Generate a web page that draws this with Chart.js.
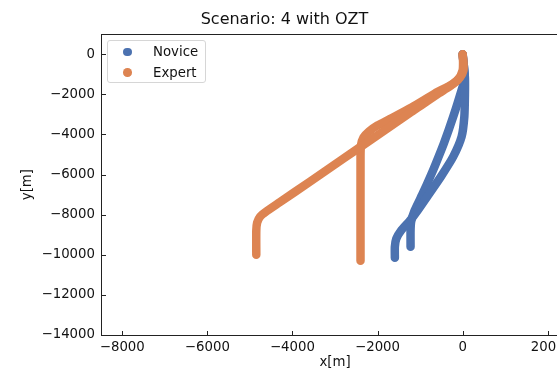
<!DOCTYPE html>
<html>
<head>
<meta charset="utf-8">
<script src="https://cdn.jsdelivr.net/npm/chart.js@4"></script>
<style>
  body { margin: 0; overflow: hidden; background: #fff; }
  #wrap { position: relative; width: 557px; height: 371px; overflow: hidden; }
  #legend {
    position: absolute; left: 107px; top: 40px; width: 97px; height: 41px;
    border: 1px solid #d6d6d6; border-radius: 3px; background: rgba(255,255,255,0.8);
    font-family: 'DejaVu Sans'; font-size: 13.3px; color: #111;
  }
  .item { position: absolute; left: 0; height: 16px; line-height: 16px; }
  .dot { position: absolute; left: 15px; top: 3.5px; width: 8.6px; height: 8.6px; border-radius: 50%; }
  .txt { position: absolute; left: 45px; top: 0; white-space: nowrap; }
</style>
</head>
<body>
<div id="wrap">
  <canvas id="chart" width="670" height="371"></canvas>
  <div id="legend"></div>
</div>
<script>
// series names / colours
const seriesNames = ['Novice', 'Expert'];
const seriesColors = ['#4c72b0', '#dd8452'];

// tick values
const xTicks = [-8000, -6000, -4000, -2000, 0, 2000];
const yTicks = [-14000, -12000, -10000, -8000, -6000, -4000, -2000, 0];

// Novice runs (x[m], y[m])
const novice1X = [0, 30, 54, 54, 40, -24, -221, -511, -800, -1050, -1240, -1450, -1560, -1593, -1593];
const novice1Y = [0, -600, -1200, -2000, -3110, -4110, -5107, -6105, -7000, -7766, -8300, -8800, -9200, -9600, -10150];
const novice2X = [0, 30, 50, -24, -221, -440, -628, -760, -950, -1130, -1210, -1224, -1224];
const novice2Y = [0, -600, -1200, -1780, -3110, -4439, -5440, -6105, -7000, -7800, -8350, -8800, -9600];

// Expert runs
const expert1X = [0, 10, 0, -100, -300, -600, -1200, -2000, -2800, -3600, -4300, -4620, -4760, -4830, -4850, -4850];
const expert1Y = [0, -400, -800, -1250, -1600, -2000, -2873, -4037, -5201, -6366, -7384, -7850, -8100, -8400, -8800, -10000];
const expert2X = [0, 20, 20, -60, -250, -650, -1200, -1711, -2000, -2200, -2330, -2390, -2400, -2400];
const expert2Y = [0, -400, -800, -1150, -1500, -1950, -2650, -3230, -3550, -3850, -4150, -4550, -5100, -10300];

function pts(xs, ys) {
    return xs.map((x, i) => ({ x: x, y: ys[i] }));
}

function run(xs, ys, s, order) {
    return {
        label: seriesNames[s],
        data: pts(xs, ys),
        showLine: true,
        borderColor: seriesColors[s],
        backgroundColor: seriesColors[s],
        borderWidth: 8.5,
        borderCapStyle: 'round',
        borderJoinStyle: 'round',
        pointRadius: 0,
        tension: 0.2,
        order: order
    };
}

// minus sign like matplotlib
function fmt(v) {
    return v < 0 ? '\u2212' + Math.abs(v) : String(v);
}

// frame + inward ticks
const framePlugin = {
    id: 'frame',
    afterDraw(chart) {
        const ctx = chart.ctx;
        const a = chart.chartArea;
        const xs = chart.scales.x, ys = chart.scales.y;
        ctx.save();
        ctx.strokeStyle = '#222';
        ctx.lineWidth = 1;
        const l = Math.round(a.left) + 0.5, r = Math.round(a.right) + 0.5;
        const t = Math.round(a.top) + 0.5, b = Math.round(a.bottom) + 0.5;
        ctx.strokeRect(l, t, r - l, b - t);
        ctx.beginPath();
        xTicks.forEach(v => {
            const px = Math.round(xs.getPixelForValue(v)) + 0.5;
            ctx.moveTo(px, b); ctx.lineTo(px, b - 4.5);
        });
        yTicks.forEach(v => {
            const py = Math.round(ys.getPixelForValue(v)) + 0.5;
            ctx.moveTo(l, py); ctx.lineTo(l + 4.5, py);
        });
        ctx.stroke();
        ctx.restore();
    }
};

const tickFont = { family: 'DejaVu Sans', size: 13.3 };

new Chart(document.getElementById('chart'), {
    type: 'scatter',
    data: {
        datasets: [
            run(novice1X, novice1Y, 0, 1),
            run(novice2X, novice2Y, 0, 1),
            run(expert1X, expert1Y, 1, 0),
            run(expert2X, expert2Y, 1, 0)
        ]
    },
    options: {
        responsive: false,
        animation: false,
        devicePixelRatio: 1,
        layout: { padding: { left: 0, right: 101, top: 0, bottom: 0 } },
        plugins: {
            legend: { display: false },
            tooltip: { enabled: false },
            title: {
                display: true,
                text: 'Scenario: 4 with OZT',
                color: '#111',
                font: { family: 'DejaVu Sans', size: 16, weight: 'normal' },
                padding: { top: 10, bottom: 5 }
            }
        },
        scales: {
            x: {
                type: 'linear',
                min: -8500,
                max: 2500,
                grid: { display: false, drawTicks: false },
                border: { display: false },
                afterBuildTicks: s => { s.ticks = xTicks.map(v => ({ value: v })); },
                afterFit: s => { s.height = 36; },
                ticks: { color: '#111', font: tickFont, padding: 5, maxRotation: 0, callback: fmt },
                title: { display: true, text: 'x[m]', color: '#111', font: tickFont, padding: { top: 0, bottom: 0 } }
            },
            y: {
                type: 'linear',
                min: -14000,
                max: 1000,
                grid: { display: false, drawTicks: false },
                border: { display: false },
                afterBuildTicks: s => { s.ticks = yTicks.map(v => ({ value: v })); },
                afterFit: s => { s.width = 101; },
                ticks: { color: '#111', font: tickFont, padding: 6, callback: fmt },
                title: { display: true, text: 'y[m]', color: '#111', font: tickFont, padding: { top: 20, bottom: 0 } }
            }
        }
    },
    plugins: [framePlugin]
});

// legend box
const legend = document.getElementById('legend');
seriesNames.forEach((name, i) => {
    const it = document.createElement('div');
    it.className = 'item';
    it.style.top = (3.3 + i * 20.4) + 'px';
    it.style.width = '97px';
    it.innerHTML = '<span class="dot" style="background:' + seriesColors[i] + '"></span><span class="txt">' + name + '</span>';
    legend.appendChild(it);
});
</script>
</body>
</html>
